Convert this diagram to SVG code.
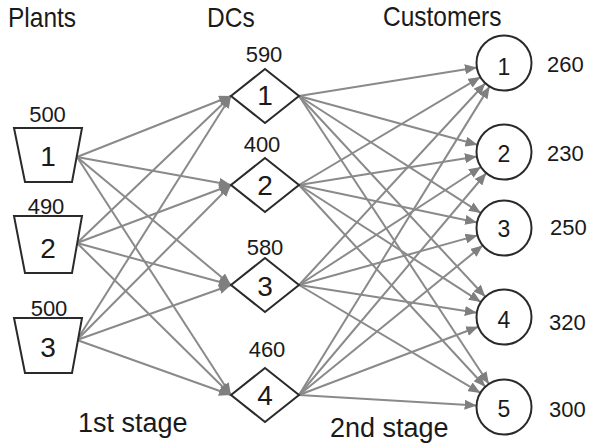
<svg xmlns="http://www.w3.org/2000/svg" width="590" height="446" viewBox="0 0 590 446">
<style>
text{font-family:"Liberation Sans",Arial,sans-serif;fill:#1a1a1a}
.hdr{font-size:24.5px}
.val{font-size:22px;text-anchor:middle}
.cval{font-size:22px}
.lbl{font-size:28px;text-anchor:middle}
.clbl{font-size:23px;text-anchor:middle}
.stage{font-size:27px}
.shape{fill:#fff;stroke:#2a2a2a;stroke-width:2}
.edge{stroke:#8a8a8a;stroke-width:2;fill:none;marker-end:url(#ah)}
</style>
<defs>
<marker id="ah" markerUnits="userSpaceOnUse" markerWidth="13" markerHeight="10" refX="12" refY="5" orient="auto">
<path d="M0,0 L12,5 L0,10 z" fill="#7f7f7f"/>
</marker>
</defs>
<rect width="590" height="446" fill="#fff"/>
<g id="headers">
<text class="hdr" transform="translate(8,27) scale(1,1.14)">Plants</text>
<text class="hdr" transform="translate(207,27) scale(1,1.14)">DCs</text>
<text class="hdr" transform="translate(383,26) scale(1,1.14)">Customers</text>
</g>
<g id="connectors">
<line class="edge" x1="77" y1="157" x2="231" y2="96"/>
<line class="edge" x1="77" y1="157" x2="231" y2="185"/>
<line class="edge" x1="77" y1="157" x2="231" y2="285"/>
<line class="edge" x1="77" y1="157" x2="231" y2="395"/>
<line class="edge" x1="77" y1="243" x2="231" y2="96"/>
<line class="edge" x1="77" y1="243" x2="231" y2="185"/>
<line class="edge" x1="77" y1="243" x2="231" y2="285"/>
<line class="edge" x1="77" y1="243" x2="231" y2="395"/>
<line class="edge" x1="77" y1="340" x2="231" y2="96"/>
<line class="edge" x1="77" y1="340" x2="231" y2="185"/>
<line class="edge" x1="77" y1="340" x2="231" y2="285"/>
<line class="edge" x1="77" y1="340" x2="231" y2="395"/>
<line class="edge" x1="299" y1="96" x2="476.9" y2="67.4"/>
<line class="edge" x1="299" y1="96" x2="477.5" y2="144.8"/>
<line class="edge" x1="299" y1="96" x2="480.9" y2="213.1"/>
<line class="edge" x1="299" y1="96" x2="485.3" y2="296.8"/>
<line class="edge" x1="299" y1="96" x2="488.9" y2="384.0"/>
<line class="edge" x1="299" y1="185" x2="480.4" y2="77.1"/>
<line class="edge" x1="299" y1="185" x2="476.9" y2="156.4"/>
<line class="edge" x1="299" y1="185" x2="477.1" y2="222.4"/>
<line class="edge" x1="299" y1="185" x2="480.9" y2="302.1"/>
<line class="edge" x1="299" y1="185" x2="485.3" y2="386.8"/>
<line class="edge" x1="299" y1="285" x2="485.3" y2="83.2"/>
<line class="edge" x1="299" y1="285" x2="480.9" y2="167.0"/>
<line class="edge" x1="299" y1="285" x2="477.5" y2="235.4"/>
<line class="edge" x1="299" y1="285" x2="476.8" y2="312.8"/>
<line class="edge" x1="299" y1="285" x2="480.4" y2="392.9"/>
<line class="edge" x1="299" y1="395" x2="489.6" y2="86.4"/>
<line class="edge" x1="299" y1="395" x2="486.3" y2="173.0"/>
<line class="edge" x1="299" y1="395" x2="482.7" y2="245.4"/>
<line class="edge" x1="299" y1="395" x2="478.3" y2="326.8"/>
<line class="edge" x1="299" y1="395" x2="476.6" y2="405.4"/>
</g>
<g id="plant1">
<polygon class="shape" points="14,128 82,128 72,182 25,182"/>
<text class="lbl" x="48" y="166">1</text>
<text class="val" x="47.5" y="122">500</text>
</g>
<g id="plant2">
<polygon class="shape" points="14,216 82,216 72,273 25,273"/>
<text class="lbl" x="48" y="258">2</text>
<text class="val" x="46" y="214">490</text>
</g>
<g id="plant3">
<polygon class="shape" points="14,318 82,318 72,373 25,373"/>
<text class="lbl" x="48" y="357">3</text>
<text class="val" x="49" y="316">500</text>
</g>
<g id="dc1">
<polygon class="shape" points="265,69 299,96 265,123 231,96"/>
<text class="lbl" x="265" y="105">1</text>
<text class="val" x="264" y="62">590</text>
</g>
<g id="dc2">
<polygon class="shape" points="265,158 299,185 265,212 231,185"/>
<text class="lbl" x="265" y="195">2</text>
<text class="val" x="262" y="152">400</text>
</g>
<g id="dc3">
<polygon class="shape" points="265,258 299,285 265,312 231,285"/>
<text class="lbl" x="265" y="296">3</text>
<text class="val" x="265" y="255">580</text>
</g>
<g id="dc4">
<polygon class="shape" points="265,368 299,395 265,422 231,395"/>
<text class="lbl" x="265" y="405">4</text>
<text class="val" x="267" y="357">460</text>
</g>
<g id="cust1">
<circle class="shape" cx="504" cy="63" r="27.5"/>
<text class="clbl" x="504" y="75">1</text>
<text class="cval" x="547" y="72">260</text>
</g>
<g id="cust2">
<circle class="shape" cx="504" cy="152" r="27.5"/>
<text class="clbl" x="504" y="162">2</text>
<text class="cval" x="547" y="161">230</text>
</g>
<g id="cust3">
<circle class="shape" cx="504" cy="228" r="27.5"/>
<text class="clbl" x="504" y="237">3</text>
<text class="cval" x="550" y="235">250</text>
</g>
<g id="cust4">
<circle class="shape" cx="504" cy="317" r="27.5"/>
<text class="clbl" x="504" y="328">4</text>
<text class="cval" x="549" y="330">320</text>
</g>
<g id="cust5">
<circle class="shape" cx="504" cy="407" r="27.5"/>
<text class="clbl" x="504" y="417">5</text>
<text class="cval" x="549" y="417">300</text>
</g>
<g id="stages">
<text class="stage" x="78" y="432">1st stage</text>
<text class="stage" x="330" y="437">2nd stage</text>
</g>
</svg>
